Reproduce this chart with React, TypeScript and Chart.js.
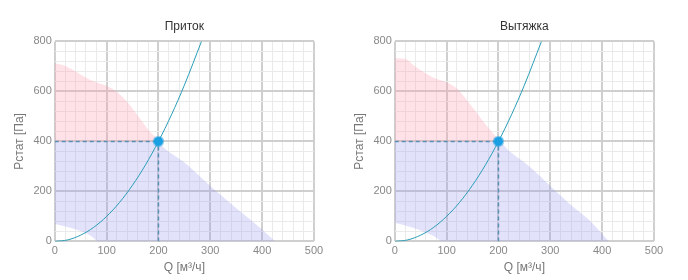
import React, { useEffect, useRef } from "react";
import { Chart, registerables } from "chart.js";

Chart.register(...registerables);

// Axis ticks
const xMax = 500;
const yMax = 800;
const xStep = 20;
const yStep = 40;
const xMajor = 100;
const yMajor = 200;

// Titles
const titleLeft = "Приток";
const titleRight = "Вытяжка";
const xTitle = "Q [м³/ч]";
const yTitle = "Pстат [Па]";

// System curve (same on both charts)
const sysQ = [0, 25, 50, 75, 100, 125, 150, 175, 200, 225, 250, 283];
const sysP = [0, 6, 25, 56, 100, 156, 225, 306, 400, 506, 625, 800];

// Working point
const workQ = 200;
const workP = 400;

// Приток: red upper zone
const inRedQ = [0, 18, 37, 56, 76, 101, 120, 140, 165, 185, 205];
const inRedP = [713, 704, 684, 660, 640, 622, 598, 558, 490, 436, 400];
// Приток: blue zone upper boundary
const inBlueQ = [0, 200, 210, 250, 300, 345, 396, 425];
const inBlueP = [400, 400, 376, 316, 222, 142, 55, 0];
// Приток: blue zone lower boundary
const inLowQ = [0, 30, 55, 70, 85, 425];
const inLowP = [70, 55, 38, 22, 0, 0];

// Вытяжка: red upper zone
const exRedQ = [0, 21, 37, 56, 76, 101, 121, 140, 165, 185, 205];
const exRedP = [733, 730, 704, 677, 654, 636, 610, 563, 496, 443, 400];
// Вытяжка: blue zone upper boundary
const exBlueQ = [0, 200, 220, 262, 300, 338, 377, 413];
const exBlueP = [400, 400, 363, 296, 222, 149, 82, 0];
// Вытяжка: blue zone lower boundary
const exLowQ = [0, 30, 55, 75, 95, 413];
const exLowP = [75, 58, 40, 22, 0, 0];

const FONT = "'Liberation Sans', Arial, sans-serif";

const pts = (q: number[], p: number[]) => q.map((x, i) => ({ x, y: p[i] }));

type Props = {
  title: string;
  redQ: number[];
  redP: number[];
  blueQ: number[];
  blueP: number[];
  lowQ: number[];
  lowP: number[];
};

function FanChart(props: Props) {
  const ref = useRef<HTMLCanvasElement | null>(null);
  useEffect(() => {
    if (!ref.current) return;
    const chart = new Chart(ref.current, {
      type: "line",
      data: {
        datasets: [
          {
            data: [{ x: workQ, y: workP }],
            showLine: false,
            pointRadius: 4.5,
            pointBackgroundColor: "#1a9fe2",
            pointBorderColor: "rgba(26,159,226,0.45)",
            pointBorderWidth: 2.5,
          } as any,
          {
            data: pts(sysQ, sysP),
            borderColor: "#2a9db6",
            borderWidth: 1,
            pointRadius: 0,
            cubicInterpolationMode: "monotone",
            fill: false,
          },
          {
            data: [
              { x: 0, y: workP },
              { x: workQ, y: workP },
            ],
            borderColor: "#5b8fb3",
            borderWidth: 1.5,
            borderDash: [4, 3],
            pointRadius: 0,
            fill: false,
          },
          {
            data: [
              { x: workQ, y: 0 },
              { x: workQ, y: workP },
            ],
            borderColor: "#5b8fb3",
            borderWidth: 1.5,
            borderDash: [4, 3],
            pointRadius: 0,
            fill: false,
          },
          {
            data: pts(props.redQ, props.redP),
            borderWidth: 0,
            borderColor: "rgba(0,0,0,0)",
            backgroundColor: "rgba(255,160,175,0.3)",
            pointRadius: 0,
            cubicInterpolationMode: "monotone",
            fill: { value: 400 },
          },
          {
            data: pts(props.blueQ, props.blueP),
            borderWidth: 0,
            borderColor: "rgba(0,0,0,0)",
            backgroundColor: "rgba(150,150,240,0.28)",
            pointRadius: 0,
            cubicInterpolationMode: "monotone",
            fill: "+1",
          },
          {
            data: pts(props.lowQ, props.lowP),
            borderWidth: 0,
            borderColor: "rgba(0,0,0,0)",
            pointRadius: 0,
            cubicInterpolationMode: "monotone",
            fill: false,
          },
        ],
      },
      options: {
        responsive: false,
        animation: false,
        events: [],
        layout: { padding: { left: 6, right: 30, top: 0, bottom: 3 } },
        plugins: {
          legend: { display: false },
          tooltip: { enabled: false },
          title: {
            display: true,
            text: props.title,
            fullSize: false,
            color: "#333",
            font: { family: FONT, size: 12, weight: "normal" },
            padding: { top: 19, bottom: 8 },
          },
        },
        scales: {
          x: {
            type: "linear",
            min: 0,
            max: xMax,
            border: { display: false },
            grid: {
              drawTicks: false,
              color: (c: any) => (c.tick && c.tick.value % xMajor === 0 ? "#cfcfcf" : "#eaeaea"),
              lineWidth: (c: any) => (c.tick && c.tick.value % xMajor === 0 ? 2 : 1),
            },
            ticks: {
              stepSize: xStep,
              autoSkip: false,
              maxRotation: 0,
              padding: 3,
              color: "#888",
              font: { family: FONT, size: 11 },
              callback: (v: any) => (Number(v) % xMajor === 0 ? String(v) : ""),
            },
            title: {
              display: true,
              text: xTitle,
              color: "#777",
              font: { family: FONT, size: 12 },
              padding: { top: 0, bottom: 2 },
            },
          },
          y: {
            type: "linear",
            min: 0,
            max: yMax,
            border: { display: false },
            grid: {
              drawTicks: false,
              color: (c: any) => (c.tick && c.tick.value % yMajor === 0 ? "#cfcfcf" : "#eaeaea"),
              lineWidth: (c: any) => (c.tick && c.tick.value % yMajor === 0 ? 2 : 1),
            },
            ticks: {
              stepSize: yStep,
              autoSkip: false,
              padding: 3,
              color: "#888",
              font: { family: FONT, size: 11 },
              callback: (v: any) => (Number(v) % yMajor === 0 ? String(v) : ""),
            },
            title: {
              display: true,
              text: yTitle,
              color: "#777",
              font: { family: FONT, size: 12 },
              padding: { top: 6, bottom: 4 },
            },
          },
        },
      },
    } as any);
    return () => chart.destroy();
  }, []);
  return <canvas ref={ref} width={344} height={280} style={{ display: "block" }} />;
}

export default function App() {
  return (
    <div style={{ position: "absolute", left: 0, top: 0, width: 688, height: 280, background: "#fff" }}>
      <div style={{ position: "absolute", left: 0, top: 0 }}>
        <FanChart
          title={titleLeft}
          redQ={inRedQ}
          redP={inRedP}
          blueQ={inBlueQ}
          blueP={inBlueP}
          lowQ={inLowQ}
          lowP={inLowP}
        />
      </div>
      <div style={{ position: "absolute", left: 340, top: 0 }}>
        <FanChart
          title={titleRight}
          redQ={exRedQ}
          redP={exRedP}
          blueQ={exBlueQ}
          blueP={exBlueP}
          lowQ={exLowQ}
          lowP={exLowP}
        />
      </div>
    </div>
  );
}
